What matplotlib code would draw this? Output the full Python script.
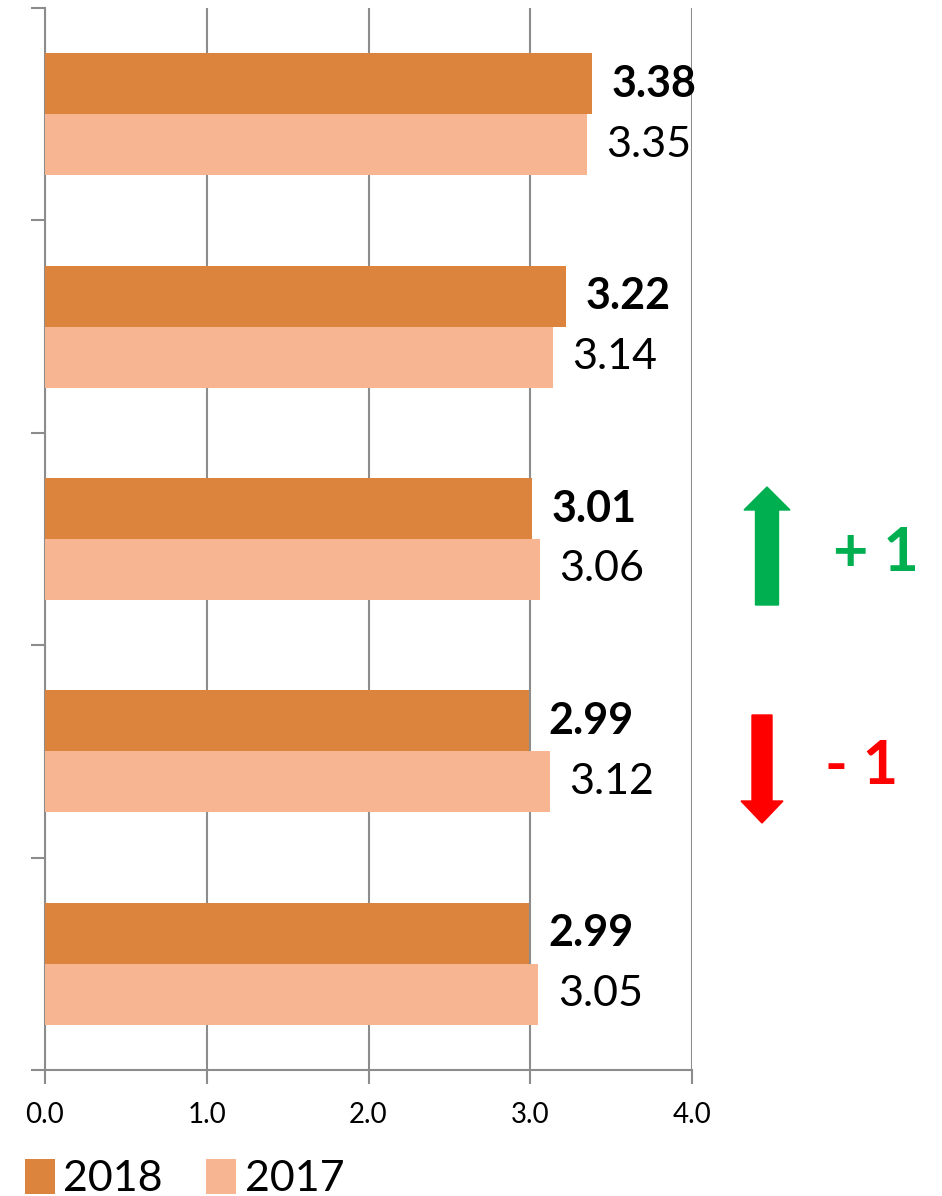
import matplotlib.pyplot as plt
from matplotlib.patches import FancyArrow
import numpy as np

plt.rcParams['font.family'] = ['Lato', 'DejaVu Sans']

categories = ["A", "B", "C", "D", "E"]
values_2018 = [3.38, 3.22, 3.01, 2.99, 2.99]
values_2017 = [3.35, 3.14, 3.06, 3.12, 3.05]
x_ticks = [0.0, 1.0, 2.0, 3.0, 4.0]

c2018 = "#DC843E"
c2017 = "#F8B592"
grid_c = "#8C8C8C"

fig = plt.figure(figsize=(9.42, 11.96), dpi=100)
ax = fig.add_axes([45 / 942, 126 / 1196, 647 / 942, 1062 / 1196])

y = np.arange(len(categories))
h = 0.287
ax.barh(y - h / 2, values_2018, height=h, color=c2018, label="2018", zorder=3)
ax.barh(y + h / 2, values_2017, height=h, color=c2017, label="2017", zorder=3)

for yi, v in zip(y, values_2018):
    ax.annotate(f"{v:.2f}", (v, yi - h / 2), xytext=(14, 0), textcoords="offset points",
                ha="left", va="center", fontsize=31, fontweight="bold", color="black")
for yi, v in zip(y, values_2017):
    ax.annotate(f"{v:.2f}", (v, yi + h / 2), xytext=(14, 0), textcoords="offset points",
                ha="left", va="center", fontsize=31, color="black")

ax.set_xlim(0, 4)
ax.set_ylim(len(categories) - 0.5, -0.5)
ax.set_xticks(x_ticks)
ax.set_xticklabels([f"{t:.1f}" for t in x_ticks])
ax.set_yticks(np.arange(-0.5, len(categories), 1.0))
ax.set_yticklabels([])
ax.grid(axis="x", color=grid_c, linewidth=1.5, zorder=0)
ax.set_axisbelow(True)

for s in ["top", "right"]:
    ax.spines[s].set_visible(False)
for s in ["left", "bottom"]:
    ax.spines[s].set_color(grid_c)
    ax.spines[s].set_linewidth(1.5)
ax.tick_params(axis="x", length=10, width=1.5, color=grid_c, direction="out",
               labelsize=20, pad=13)
ax.tick_params(axis="y", length=10, width=1.5, color=grid_c, direction="out")

ax.legend(loc="lower left", bbox_to_anchor=(-0.058, -0.137), ncol=2, frameon=False,
          fontsize=31, handlelength=0.7, handleheight=0.85, handletextpad=0.2,
          columnspacing=1.0, borderaxespad=0)

# change arrows
tr = fig.dpi_scale_trans
fig.patches.append(FancyArrow(7.67, (1196 - 605) / 100, 0, 1.18, width=0.23,
                              head_width=0.46, head_length=0.23,
                              length_includes_head=True, color="#00B050", transform=tr))
fig.patches.append(FancyArrow(7.62, (1196 - 715) / 100, 0, -1.08, width=0.20,
                              head_width=0.42, head_length=0.22,
                              length_includes_head=True, color="#FF0000", transform=tr))
fig.text(876 / 942, 1 - 553 / 1196, "+ 1", ha="center", va="center", fontsize=44,
         fontweight="bold", color="#00B050")
fig.text(862 / 942, 1 - 766 / 1196, "- 1", ha="center", va="center", fontsize=44,
         fontweight="bold", color="#FF0000")

fig.savefig("out.png", dpi=100)
